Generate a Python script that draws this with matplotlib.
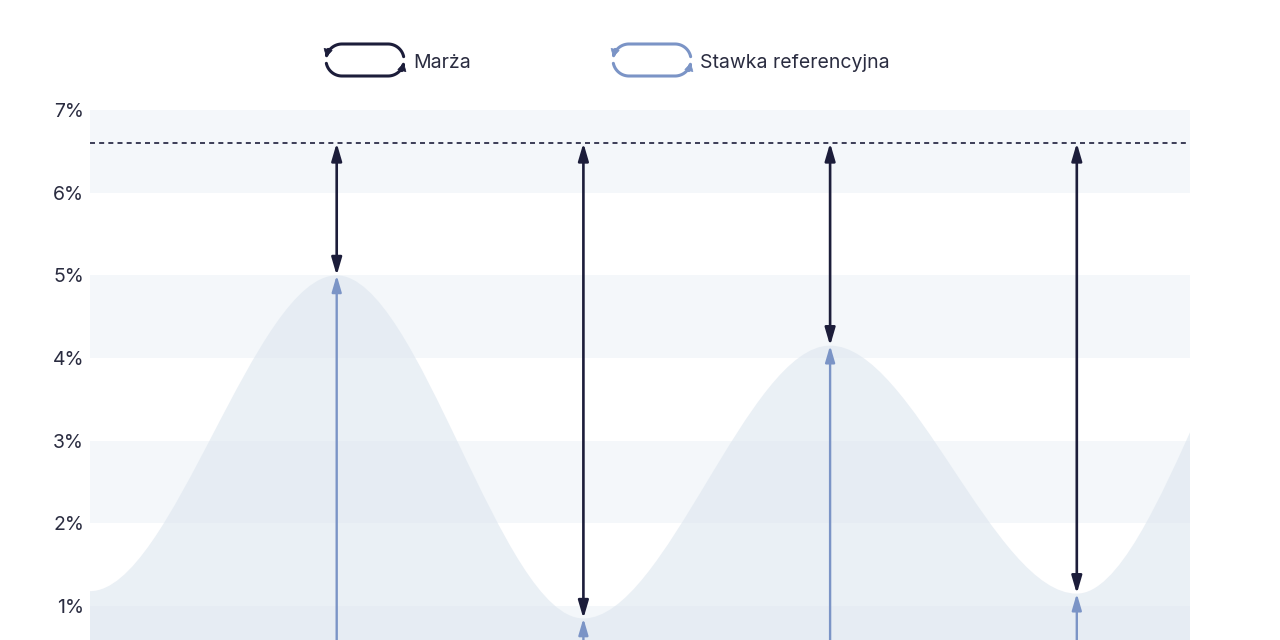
import numpy as np
import matplotlib
matplotlib.use("Agg")
import matplotlib.pyplot as plt
from matplotlib.path import Path
from matplotlib.patches import PathPatch, Polygon

plt.rcParams['font.family'] = ['Inter', 'DejaVu Sans']

# ---- data ----
x_index = [0, 1, 2, 3, 4, 5]
reference_rate = [1.18, 5.0, 0.85, 4.15, 1.15, 5.6]   # Stawka referencyjna (%)
total_rate = 6.6                                      # stawka + marża (%)
arrow_positions = [1, 2, 3, 4]
y_ticks = [1, 2, 3, 4, 5, 6, 7]
y_tick_labels = ["1%", "2%", "3%", "4%", "5%", "6%", "7%"]
legend_labels = ["Marża", "Stawka referencyjna"]

DARK = '#1c1d3a'
LIGHT = '#7b94c6'
BAND = '#f4f7fa'
AREA = '#dde6ef'
TEXT = '#2a2c40'

fig = plt.figure(figsize=(12.8, 6.4), dpi=100)
ax_bottom_val = 0.589
ax = fig.add_axes([90 / 1280, 0, 1100 / 1280, 530 / 640])
ax.set_xlim(0, 1100 / 246.7)
ax.set_ylim(ax_bottom_val, 7.0)

for lo in [0, 2, 4, 6]:
    ax.axhspan(lo, lo + 1, color=BAND, lw=0, zorder=0)

# smooth area from data points (cubic with horizontal tangents)
verts = [(x_index[0], -1), (x_index[0], reference_rate[0])]
codes = [Path.MOVETO, Path.LINETO]
for i in range(len(x_index) - 1):
    x0, y0 = x_index[i], reference_rate[i]
    x1, y1 = x_index[i + 1], reference_rate[i + 1]
    dx = x1 - x0
    verts += [(x0 + dx / 3, y0), (x1 - dx / 3, y1), (x1, y1)]
    codes += [Path.CURVE4] * 3
verts += [(x_index[-1], -1), (x_index[0], -1)]
codes += [Path.LINETO, Path.CLOSEPOLY]
area = PathPatch(Path(verts, codes), facecolor=AREA, edgecolor='none', alpha=0.6, zorder=1)
ax.add_patch(area)

ax.axhline(total_rate, color=DARK, lw=1.2, linestyle=(0, (3, 2.5)), zorder=2)

for p in arrow_positions:
    v = reference_rate[p]
    ax.annotate('', xy=(p, v), xytext=(p, total_rate),
                arrowprops=dict(arrowstyle='<|-|>,head_length=0.75,head_width=0.22',
                                mutation_scale=14, color=DARK, lw=1.9,
                                shrinkA=0, shrinkB=0), zorder=4)
    ax.annotate('', xy=(p, v), xytext=(p, -0.5),
                arrowprops=dict(arrowstyle='-|>,head_length=0.75,head_width=0.22',
                                mutation_scale=13, color=LIGHT, lw=1.7,
                                shrinkA=0, shrinkB=0), zorder=3, annotation_clip=False)

ax.set_yticks(y_ticks)
ax.set_yticklabels(y_tick_labels)
ax.tick_params(axis='y', length=0, pad=4.3, labelsize=14, labelcolor=TEXT)
ax.set_xticks([])
for s in ax.spines.values():
    s.set_visible(False)

# ---- legend overlay (pixel coordinates) ----
lax = fig.add_axes([0, 0, 1, 1], zorder=10)
lax.set_xlim(0, 1280)
lax.set_ylim(640, 0)
lax.axis('off')
lax.patch.set_alpha(0)


def capsule_icon(cx, cy, color):
    r = 16.0
    hw = 23.0
    head_len, head_w = 7.5, 4.2

    def arc(ccx, a0, a1, n=24):
        a = np.radians(np.linspace(a0, a1, n))
        return list(zip(ccx + r * np.cos(a), r * np.sin(a)))

    # math coords relative to (cx, cy), y up
    strokeA = arc(cx + hw, 12, 90) + arc(cx - hw, 90, 168)
    strokeB = arc(cx - hw, 192, 270) + arc(cx + hw, 270, 348)
    for pts in (strokeA, strokeB):
        pts = np.array(pts)
        tip = pts[-1]
        d = pts[-1] - pts[-2]
        d = d / np.hypot(*d)
        nrm = np.array([-d[1], d[0]])
        base = tip - d * head_len
        line = np.vstack([pts[:-1], base])
        tri = np.array([tip, base + nrm * head_w, base - nrm * head_w])
        lax.plot(line[:, 0], cy - line[:, 1], color=color, lw=2.2,
                 solid_capstyle='round', solid_joinstyle='round')
        lax.add_patch(Polygon(np.column_stack([tri[:, 0], cy - tri[:, 1]]),
                              closed=True, facecolor=color, edgecolor=color, lw=0.5))


capsule_icon(365, 60, DARK)
lax.text(413, 62.5, legend_labels[0], fontsize=14, color=TEXT, va='center', ha='left')
capsule_icon(652, 60, LIGHT)
lax.text(700, 62.5, legend_labels[1], fontsize=14, color=TEXT, va='center', ha='left')

fig.savefig('out.png', dpi=100, facecolor='white')
